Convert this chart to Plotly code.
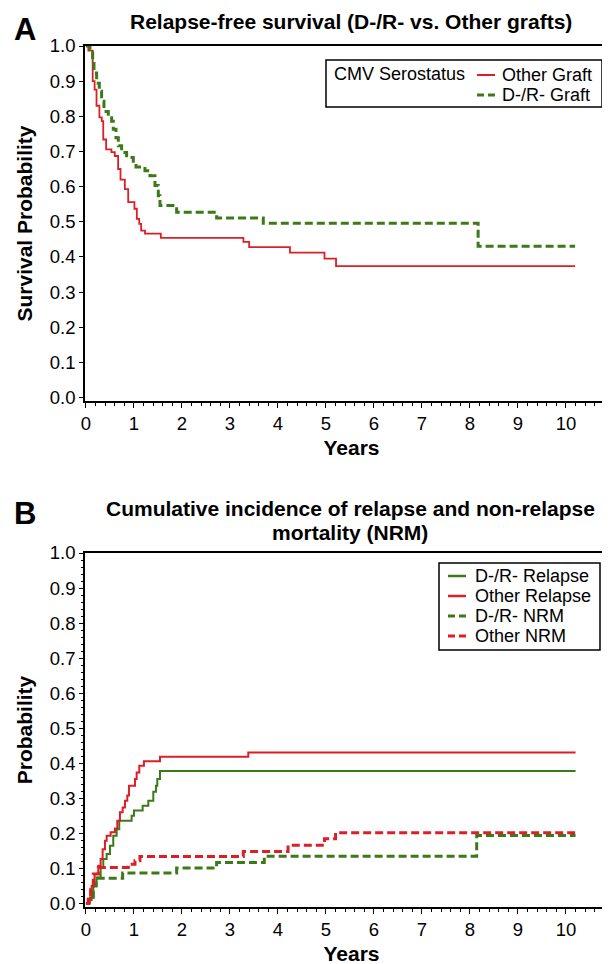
import plotly.graph_objects as go

# ---------------- data ----------------
# Panel A: relapse-free survival (Kaplan-Meier steps)
a_other_t = [0, 0.05, 0.14, 0.18, 0.22, 0.28, 0.33, 0.36, 0.42, 0.53, 0.60, 0.67, 0.72,
             0.81, 0.88, 1.01, 1.06, 1.11, 1.15, 1.23, 1.56, 3.28, 3.40, 4.25, 4.97, 5.21, 10.19]
a_other_s = [1.0, 0.987, 0.90, 0.876, 0.83, 0.797, 0.786, 0.734, 0.706, 0.698, 0.687, 0.65, 0.62,
             0.593, 0.556, 0.537, 0.508, 0.494, 0.475, 0.466, 0.454, 0.443, 0.428, 0.412, 0.395, 0.374, 0.374]

a_dr_t = [0, 0.083, 0.139, 0.167, 0.222, 0.278, 0.326, 0.375, 0.465, 0.535, 0.569, 0.625, 0.674,
          0.743, 0.847, 0.986, 1.042, 1.229, 1.333, 1.438, 1.507, 1.542, 1.889, 2.722, 3.694, 8.17, 10.19]
a_dr_s = [1.0, 0.99, 0.956, 0.923, 0.894, 0.871, 0.843, 0.814, 0.796, 0.786, 0.763, 0.739, 0.716,
          0.697, 0.683, 0.668, 0.656, 0.645, 0.631, 0.603, 0.574, 0.546, 0.527, 0.511, 0.496, 0.43, 0.43]

# Panel B: cumulative incidence
b_dr_rel_t = [0, 0.083, 0.153, 0.222, 0.306, 0.361, 0.431, 0.5, 0.569, 0.639, 0.694, 0.951, 1.0,
              1.181, 1.299, 1.403, 1.458, 1.486, 1.542, 10.2]
b_dr_rel_p = [0, 0.017, 0.05, 0.074, 0.103, 0.127, 0.141, 0.165, 0.193, 0.212, 0.236, 0.25, 0.265,
              0.279, 0.293, 0.319, 0.336, 0.355, 0.378, 0.378]

b_oth_rel_t = [0, 0.049, 0.118, 0.18, 0.257, 0.306, 0.347, 0.396, 0.431, 0.514, 0.604, 0.653, 0.708,
               0.764, 0.813, 0.861, 0.896, 1.021, 1.056, 1.111, 1.208, 1.542, 3.382, 10.2]
b_oth_rel_p = [0, 0.01, 0.05, 0.084, 0.108, 0.127, 0.155, 0.179, 0.193, 0.203, 0.214, 0.236, 0.26,
               0.274, 0.293, 0.308, 0.336, 0.355, 0.374, 0.393, 0.406, 0.419, 0.431, 0.431]

b_dr_nrm_t = [0, 0.05, 0.153, 0.208, 0.764, 1.889, 2.722, 3.715, 8.14, 10.2]
b_dr_nrm_p = [0, 0.012, 0.05, 0.072, 0.087, 0.101, 0.117, 0.135, 0.194, 0.194]

b_oth_nrm_t = [0, 0.049, 0.097, 0.153, 0.257, 0.882, 1.021, 1.125, 3.278, 4.21, 4.97, 5.2, 10.2]
b_oth_nrm_p = [0, 0.012, 0.05, 0.084, 0.103, 0.112, 0.122, 0.134, 0.148, 0.166, 0.185, 0.202, 0.202]

y_ticks = [0.0, 0.1, 0.2, 0.3, 0.4, 0.5, 0.6, 0.7, 0.8, 0.9, 1.0]
x_ticks = [0, 1, 2, 3, 4, 5, 6, 7, 8, 9, 10]

legend_a_title = "CMV Serostatus"
legend_a_names = ["Other Graft", "D-/R- Graft"]
legend_b_names = ["D-/R- Relapse", "Other Relapse", "D-/R- NRM", "Other NRM"]

# ---------------- style ----------------
W, H = 610, 964
OFF = 8  # page body margin offset
RED = "#dc1f26"
GREEN = "#3c7a19"
DASH = "8px,4px"
FONT = "Liberation Sans, Arial, sans-serif"


def fx(px):
    return (px - OFF) / W


def fy(py):
    return 1 - (py - OFF) / H


PX_PER_YEAR = 48.0
X_LEFT_PX = 85
x_lo = -0.02
x_hi = x_lo + (W + OFF - X_LEFT_PX) / PX_PER_YEAR

fig = go.Figure()

# Panel A
fig.add_trace(go.Scatter(x=a_other_t, y=a_other_s, mode="lines", line_shape="hv",
                         line=dict(color=RED, width=1.8), name=legend_a_names[0],
                         xaxis="x", yaxis="y", showlegend=False))
fig.add_trace(go.Scatter(x=a_dr_t, y=a_dr_s, mode="lines", line_shape="hv",
                         line=dict(color=GREEN, width=3, dash=DASH), name=legend_a_names[1],
                         xaxis="x", yaxis="y", showlegend=False))

# Panel B
fig.add_trace(go.Scatter(x=b_dr_rel_t, y=b_dr_rel_p, mode="lines", line_shape="hv",
                         line=dict(color=GREEN, width=2), name=legend_b_names[0],
                         xaxis="x2", yaxis="y2", showlegend=False))
fig.add_trace(go.Scatter(x=b_oth_rel_t, y=b_oth_rel_p, mode="lines", line_shape="hv",
                         line=dict(color=RED, width=2), name=legend_b_names[1],
                         xaxis="x2", yaxis="y2", showlegend=False))
fig.add_trace(go.Scatter(x=b_dr_nrm_t, y=b_dr_nrm_p, mode="lines", line_shape="hv",
                         line=dict(color=GREEN, width=3, dash=DASH), name=legend_b_names[2],
                         xaxis="x2", yaxis="y2", showlegend=False))
fig.add_trace(go.Scatter(x=b_oth_nrm_t, y=b_oth_nrm_p, mode="lines", line_shape="hv",
                         line=dict(color=RED, width=3, dash=DASH), name=legend_b_names[3],
                         xaxis="x2", yaxis="y2", showlegend=False))

tickfont = dict(family=FONT, size=18.5, color="black")
titlefont = dict(family=FONT, size=21, color="black")
legfont_a = dict(family=FONT, size=18, color="black")
legfont_b = dict(family=FONT, size=18, color="black")


def xaxis_cfg(anchor):
    return dict(
        domain=[fx(X_LEFT_PX), 1], range=[x_lo, x_hi], anchor=anchor,
        tickmode="array", tickvals=x_ticks, ticktext=[str(v) for v in x_ticks],
        ticks="outside", ticklen=5, tickwidth=1.2, tickcolor="black",
        minor=dict(ticks="outside", ticklen=3, dtick=0.2, tick0=0, tickcolor="black", tickwidth=1),
        showline=True, linecolor="black", linewidth=1.5, mirror=True,
        showgrid=False, zeroline=False, tickfont=tickfont,
        title=dict(text="<b>Years</b>", font=titlefont, standoff=7),
    )


def yaxis_cfg(anchor, dom, title, minor):
    d = dict(
        domain=dom, range=[-0.01, 1.0], anchor=anchor,
        tickmode="array", tickvals=y_ticks, ticktext=["%.1f" % v for v in y_ticks],
        ticks="outside", ticklen=4, tickwidth=1.2, tickcolor="black",
        showline=True, linecolor="black", linewidth=1.5,
        showgrid=False, zeroline=False, tickfont=tickfont,
        title=dict(text="<b>%s</b>" % title, font=titlefont, standoff=11),
    )
    if minor:
        d["minor"] = dict(ticks="outside", ticklen=2, dtick=0.02, tick0=0, tickcolor="black", tickwidth=1)
    return d


LA_ROWS = [75, 95]          # legend A row centres (page px)
LB_ROWS = [576, 596, 616, 636]  # legend B row centres (page px)

annotations = [
    dict(text="<b>A</b>", x=fx(12), y=fy(29), xanchor="left", yanchor="middle",
         font=dict(family=FONT, size=31, color="black")),
    dict(text="<b>B</b>", x=fx(12), y=fy(513), xanchor="left", yanchor="middle",
         font=dict(family=FONT, size=31, color="black")),
    dict(text="<b>Relapse-free survival (D-/R- vs. Other grafts)</b>", x=fx(351), y=fy(22),
         xanchor="center", yanchor="middle", font=titlefont),
    dict(text="<b>Cumulative incidence of relapse and non-relapse</b>", x=fx(350), y=fy(508),
         xanchor="center", yanchor="middle", font=titlefont),
    dict(text="<b>mortality (NRM)</b>", x=fx(350), y=fy(532),
         xanchor="center", yanchor="middle", font=titlefont),
    # legend A text
    dict(text=legend_a_title, x=fx(332), y=fy(LA_ROWS[0] - 1), xanchor="left", yanchor="middle",
         font=legfont_a),
    dict(text=legend_a_names[0], x=fx(500), y=fy(LA_ROWS[0]), xanchor="left", yanchor="middle",
         font=legfont_a),
    dict(text=legend_a_names[1], x=fx(500), y=fy(LA_ROWS[1]), xanchor="left", yanchor="middle",
         font=legfont_a),
]
for i, name in enumerate(legend_b_names):
    annotations.append(dict(text=name, x=fx(473), y=fy(LB_ROWS[i]), xanchor="left",
                            yanchor="middle", font=legfont_b))
for a in annotations:
    a.update(xref="paper", yref="paper", showarrow=False)

shapes = [
    # legend A box and samples
    dict(type="rect", x0=fx(326), x1=fx(602), y0=fy(60), y1=fy(107),
         line=dict(color="black", width=1.5), fillcolor="white"),
    dict(type="line", x0=fx(477), x1=fx(495), y0=fy(LA_ROWS[0]), y1=fy(LA_ROWS[0]),
         line=dict(color=RED, width=2)),
    dict(type="line", x0=fx(477), x1=fx(495), y0=fy(LA_ROWS[1]), y1=fy(LA_ROWS[1]),
         line=dict(color=GREEN, width=3, dash="7px,4px")),
    # legend B box
    dict(type="rect", x0=fx(439), x1=fx(600), y0=fy(563), y1=fy(650),
         line=dict(color="black", width=1.5), fillcolor="white"),
]
b_styles = [(GREEN, 2.5, "solid"), (RED, 2.5, "solid"), (GREEN, 3, "7px,4px"), (RED, 3, "7px,4px")]
for i, (c, w, d) in enumerate(b_styles):
    yy = fy(LB_ROWS[i])
    shapes.append(dict(type="line", x0=fx(448), x1=fx(466), y0=yy, y1=yy,
                       line=dict(color=c, width=w, dash=d)))
for s in shapes:
    s.update(xref="paper", yref="paper", layer="above")

fig.update_layout(
    width=W, height=H, autosize=False,
    margin=dict(l=0, r=0, t=0, b=0, autoexpand=False),
    paper_bgcolor="white", plot_bgcolor="white",
    font=dict(family=FONT, color="black"),
    xaxis=xaxis_cfg("y"),
    yaxis=yaxis_cfg("x", [fy(401), fy(46)], "Survival Probability", False),
    xaxis2=xaxis_cfg("y2"),
    yaxis2=yaxis_cfg("x2", [fy(907), fy(553)], "Probability", True),
    showlegend=False,
    annotations=annotations,
    shapes=shapes,
)

fig.write_html("out.html")
